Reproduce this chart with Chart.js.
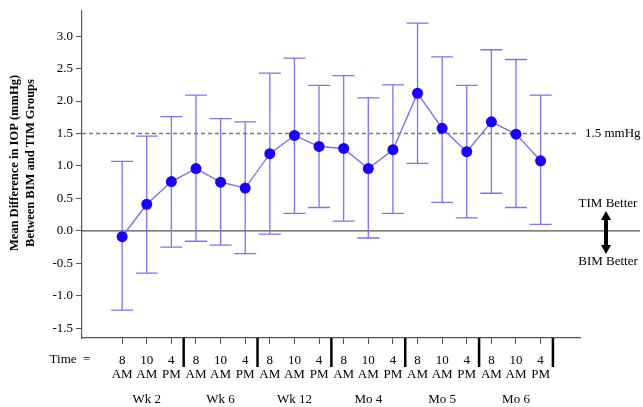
<!DOCTYPE html>
<html>
<head>
<meta charset="utf-8">
<script src="https://cdn.jsdelivr.net/npm/chart.js@4"></script>
<style>
  html, body { margin: 0; padding: 0; background: #fff; }
  #wrap { width: 643px; height: 407px; }
</style>
</head>
<body>
<div id="wrap"><canvas id="grafico"></canvas></div>
<script>
// Datos
const hours = ["8", "10", "4", "8", "10", "4", "8", "10", "4", "8", "10", "4", "8", "10", "4", "8", "10", "4"];
const meridiem = ["AM", "AM", "PM", "AM", "AM", "PM", "AM", "AM", "PM", "AM", "AM", "PM", "AM", "AM", "PM", "AM", "AM", "PM"];
const visits = ["Wk 2", "Wk 6", "Wk 12", "Mo 4", "Mo 5", "Mo 6"];
const means = [-0.09, 0.41, 0.76, 0.96, 0.75, 0.66, 1.19, 1.47, 1.30, 1.27, 0.96, 1.25, 2.12, 1.58, 1.22, 1.68, 1.49, 1.08];
const upper = [1.07, 1.46, 1.76, 2.09, 1.73, 1.68, 2.43, 2.66, 2.24, 2.39, 2.05, 2.25, 3.20, 2.68, 2.24, 2.79, 2.64, 2.09];
const lower = [-1.22, -0.65, -0.25, -0.16, -0.22, -0.35, -0.05, 0.27, 0.36, 0.15, -0.11, 0.27, 1.04, 0.44, 0.20, 0.58, 0.36, 0.10];
const yTicks = [-1.5, -1.0, -0.5, 0.0, 0.5, 1.0, 1.5, 2.0, 2.5, 3.0];
const refValue = 1.5;
const yTitle = ["Mean Difference in IOP (mmHg)", "Between BIM and TIM Groups"];

const serif = "'Liberation Serif', 'DejaVu Serif', serif";
const lineColor = "#7d72f2";
const dotColor = "#1a00ff";

// Barras de error, líneas de referencia y etiquetas extra
const extras = {
  id: "extras",
  beforeDatasetsDraw(chart) {
    const { ctx, scales: { x, y }, chartArea } = chart;
    ctx.save();
    // línea punteada 1.5
    const yr = y.getPixelForValue(refValue);
    ctx.strokeStyle = "#777";
    ctx.lineWidth = 1.3;
    ctx.setLineDash([4, 3]);
    ctx.beginPath();
    ctx.moveTo(chartArea.left, yr);
    ctx.lineTo(578, yr);
    ctx.stroke();
    ctx.setLineDash([]);
    // línea del cero
    const y0 = y.getPixelForValue(0);
    ctx.strokeStyle = "#555";
    ctx.lineWidth = 1.2;
    ctx.beginPath();
    ctx.moveTo(chartArea.left, y0);
    ctx.lineTo(640, y0);
    ctx.stroke();
    // barras de error
    ctx.strokeStyle = lineColor;
    ctx.lineWidth = 1.3;
    means.forEach((m, i) => {
      const px = x.getPixelForValue(i);
      const top = y.getPixelForValue(upper[i]);
      const bot = y.getPixelForValue(lower[i]);
      ctx.beginPath();
      ctx.moveTo(px, top);
      ctx.lineTo(px, bot);
      ctx.moveTo(px - 11, top);
      ctx.lineTo(px + 11, top);
      ctx.moveTo(px - 11, bot);
      ctx.lineTo(px + 11, bot);
      ctx.stroke();
    });
    ctx.restore();
  },
  afterDraw(chart) {
    const { ctx, scales: { x, y }, chartArea } = chart;
    ctx.save();
    ctx.fillStyle = "#000";
    ctx.font = "13px " + serif;
    ctx.textBaseline = "middle";
    ctx.textAlign = "left";
    ctx.fillText("1.5 mmHg", 585, y.getPixelForValue(refValue));
    ctx.textAlign = "center";
    ctx.fillText("TIM Better", 608, 204);
    ctx.fillText("BIM Better", 608, 262);
    // flecha doble
    const ax = 606;
    ctx.strokeStyle = "#000";
    ctx.lineWidth = 4;
    ctx.beginPath();
    ctx.moveTo(ax, 218);
    ctx.lineTo(ax, 247);
    ctx.stroke();
    ctx.beginPath();
    ctx.moveTo(ax, 211);
    ctx.lineTo(ax - 5, 220);
    ctx.lineTo(ax + 5, 220);
    ctx.closePath();
    ctx.moveTo(ax, 254);
    ctx.lineTo(ax - 5, 245);
    ctx.lineTo(ax + 5, 245);
    ctx.closePath();
    ctx.fillStyle = "#000";
    ctx.fill();
    // separadores de grupos
    const bottom = chartArea.bottom;
    ctx.lineWidth = 2.5;
    for (let g = 0; g < visits.length; g++) {
      const sx = x.getPixelForValue(g * 3 + 2.5);
      ctx.beginPath();
      ctx.moveTo(sx, bottom);
      ctx.lineTo(sx, bottom + 29);
      ctx.stroke();
      const cx = x.getPixelForValue(g * 3 + 1);
      ctx.fillText(visits[g], cx, 400);
    }
    ctx.fillText("Time  =", 70, 360);
    // título del eje y
    ctx.font = "bold 12.5px " + serif;
    ctx.translate(0, 163);
    ctx.rotate(-Math.PI / 2);
    ctx.fillText(yTitle[0], 0, 15);
    ctx.fillText(yTitle[1], 0, 31);
    ctx.restore();
  },
};

new Chart(document.getElementById("grafico"), {
  type: "line",
  data: {
    datasets: [
      {
        label: "Diferencia media",
        data: means.map((m, i) => ({ x: i, y: m })),
        borderColor: lineColor,
        borderWidth: 1.4,
        pointRadius: 5.5,
        pointBackgroundColor: dotColor,
        pointBorderColor: dotColor,
        pointBorderWidth: 0,
        tension: 0,
      },
    ],
  },
  options: {
    responsive: true,
    maintainAspectRatio: false,
    animation: false,
    layout: { padding: { left: 0, right: 63, top: 10, bottom: 0 } },
    plugins: {
      legend: { display: false },
      tooltip: { enabled: false },
    },
    scales: {
      x: {
        type: "linear",
        min: -1.63,
        max: 18.6,
        afterBuildTicks: (axis) => {
          axis.ticks = hours.map((h, i) => ({ value: i }));
        },
        ticks: {
          autoSkip: false,
          maxRotation: 0,
          padding: 9,
          color: "#000",
          font: { family: serif, size: 13, lineHeight: 1.1 },
          callback: (v) => [hours[v], meridiem[v]],
        },
        grid: { drawOnChartArea: false, tickLength: 6, color: "#555", tickWidth: 1 },
        border: { display: true, color: "#555", width: 1.2 },
        afterFit: (axis) => { axis.height = 69; },
      },
      y: {
        min: -1.65,
        max: 3.39,
        afterBuildTicks: (axis) => {
          axis.ticks = yTicks.map((v) => ({ value: v }));
        },
        ticks: {
          padding: 3,
          color: "#000",
          font: { family: serif, size: 13 },
          callback: (v) => v.toFixed(1),
        },
        grid: { drawOnChartArea: false, tickLength: 6, color: "#555", tickWidth: 1 },
        border: { display: true, color: "#555", width: 1.2 },
        afterFit: (axis) => { axis.width = 82; },
      },
    },
  },
  plugins: [extras],
});
</script>
</body>
</html>
